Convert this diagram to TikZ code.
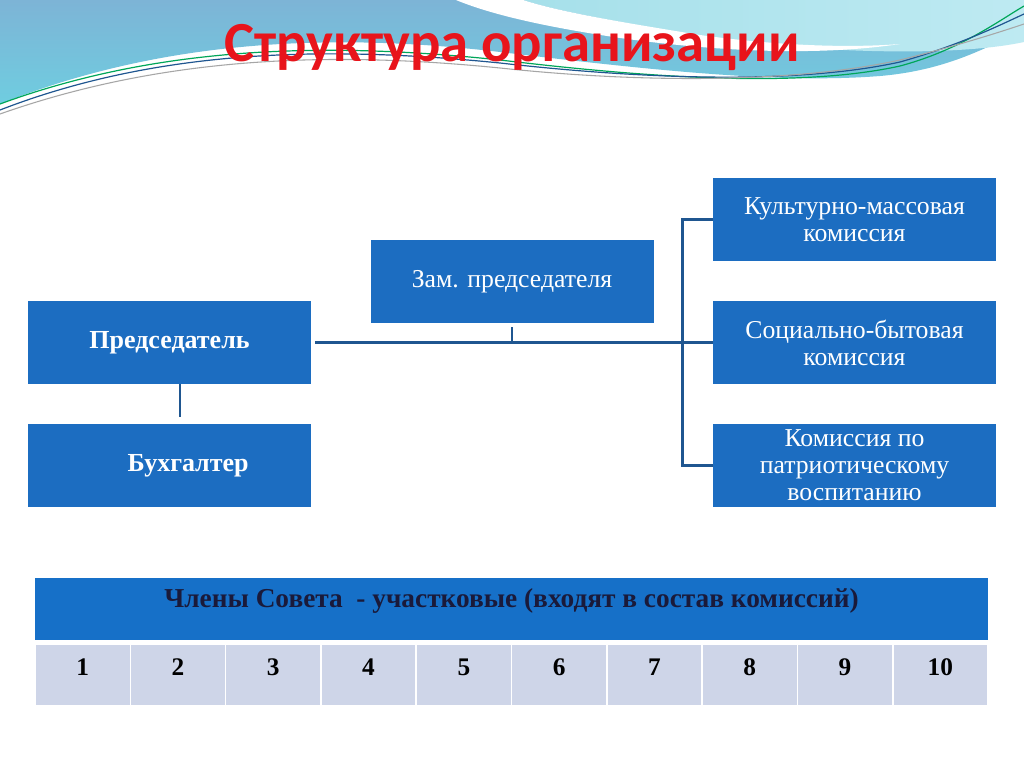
\documentclass[tikz,border=0pt]{standalone}
\usepackage{fontspec}
\setmainfont{Liberation Serif}
\newfontfamily\titlefont{Carlito}
\usetikzlibrary{calc}
\definecolor{boxblue}{HTML}{1C6DC1}
\definecolor{hdrblue}{HTML}{1670C8}
\definecolor{cellfill}{HTML}{CED5E8}
\definecolor{linkblue}{HTML}{1F5690}
\definecolor{titlered}{HTML}{E8141B}
\definecolor{waveA}{HTML}{7DB4D6}
\definecolor{waveB}{HTML}{6FCDE0}
\definecolor{waveC}{HTML}{A6E0EA}
\definecolor{waveD}{HTML}{BEEAF2}
\definecolor{navytext}{HTML}{1A1A3A}
\tikzset{
  orgbox/.style={draw=none, fill=boxblue, minimum width=283*0.75pt, minimum height=83*0.75pt,
    inner sep=0pt, text=white, align=center, font=\fontsize{19.3}{20.2}\selectfont},
  boldbox/.style={orgbox, font=\bfseries\fontsize{19.5}{21}\selectfont},
  cellbox/.style={draw=white, line width=1.2pt, fill=cellfill, minimum width=95.3*0.75pt,
    minimum height=62*0.75pt, inner sep=0pt},
  numtext/.style={font=\bfseries\fontsize{19}{21}\selectfont},
  link/.style={draw=linkblue, line width=2.2pt},
}
\begin{document}
\begin{tikzpicture}[x=0.75pt,y=-0.75pt]
\useasboundingbox (0,0) rectangle (1024,767);
\fill[white] (0,0) rectangle (1024,767);
% top wave decoration
\shade[top color=waveA, bottom color=waveB]
  (0,0) -- (1024,0) -- (1024,30)
  .. controls (990,45) and (950,70) .. (880,76)
  .. controls (780,84) and (650,70) .. (500,52)
  .. controls (330,32) and (160,40) .. (0,104) -- cycle;
\shade[left color=waveC, right color=waveD]
  (523,0) -- (1024,0) -- (1024,42)
  .. controls (950,58) and (800,52) .. (700,36)
  .. controls (620,22) and (560,12) .. (523,0) -- cycle;
\fill[white]
  (456,0) -- (523,0)
  .. controls (560,12) and (620,22) .. (700,35)
  .. controls (780,46) and (850,48) .. (900,44)
  .. controls (820,56) and (720,52) .. (620,38)
  .. controls (540,26) and (490,14) .. (456,0) -- cycle;
\draw[teal!70!green, line width=0.9pt]
  (0,104) .. controls (160,45) and (330,42) .. (500,60)
  .. controls (650,78) and (800,88) .. (900,66) .. controls (960,50) and (1000,20) .. (1024,6);
\draw[linkblue, line width=0.9pt]
  (0,110) .. controls (160,48) and (330,46) .. (500,63)
  .. controls (650,80) and (800,84) .. (900,62) .. controls (960,45) and (1000,25) .. (1024,14);
\draw[gray!70, line width=0.8pt]
  (0,114) .. controls (170,54) and (340,52) .. (500,68)
  .. controls (650,84) and (800,82) .. (900,60) .. controls (960,45) and (1000,32) .. (1024,24);
% title
\node[text=titlered, font=\titlefont\bfseries\fontsize{42.5}{46}\selectfont] (title) at (512,47) {Структура организации};
% boxes
\node[boldbox] (pred) at (169.5,342.5) {Председатель};
\node[boldbox] (buh) at (169.5,465.5) {\hspace*{28pt}Бухгалтер};
\node[orgbox] (zam) at (512,281.5) {Зам. председателя};
\node[orgbox] (kult) at (854.5,219.5) {Культурно-массовая\\комиссия};
\node[orgbox] (soc) at (854.5,342.5) {Социально-бытовая\\комиссия};
\node[orgbox] (patr) at (854.5,465.5) {Комиссия по\\патриотическому\\воспитанию};
% connectors
\draw[link] ($(pred.east)+(4,0)$) -- (soc.west);
\draw[link] ($(zam.south)+(0,4)$) -- (zam.south |- soc.west);
\draw[link] (kult.west) -- ++(-30,0) |- (patr.west);
\draw[link] ($(pred.south)+(10.5,0)$) -- ($(buh.north)+(10.5,-7)$);
% table
\node[fill=hdrblue, minimum width=953*0.75pt, minimum height=62*0.75pt, inner sep=0pt] (hdr) at (511.5,609) {};
\node[text=navytext, font=\bfseries\fontsize{20.5}{23}\selectfont] (hdrtext) at (511.5,601) {Члены Совета \ - участковые (входят в состав комиссий)};
\foreach \i in {1,...,10} {
  \node[cellbox] (c\i) at ({35+95.3*(\i-0.5)},675) {};
  \node[numtext] (n\i) at ({35+95.3*(\i-0.5)},667) {\i};
}
\end{tikzpicture}
\end{document}
